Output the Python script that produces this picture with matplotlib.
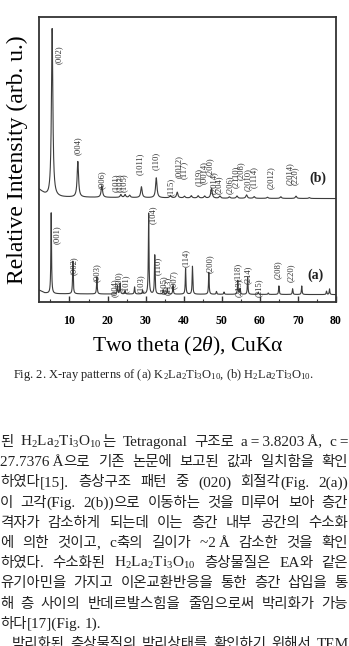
import numpy as np
import matplotlib
matplotlib.use("Agg")
import matplotlib.pyplot as plt

plt.rcParams['font.family'] = ['Liberation Serif', 'Noto Sans CJK KR']
plt.rcParams['mathtext.fontset'] = 'custom'
plt.rcParams['mathtext.rm'] = 'Liberation Serif'
plt.rcParams['mathtext.it'] = 'Liberation Serif:italic'
plt.rcParams['mathtext.bf'] = 'Liberation Serif:bold'

#page size in pixels (dpi 100)
W, H = 349, 646

#--- data ---
tth_min, tth_max = 2, 80

#(a) K2La2Ti3O10 : peak positions (2theta) and heights above the baseline
pos_a = [5.2, 10.9, 17.2, 22.6, 23.3, 24.6, 27.1, 29.2, 30.8, 32.4, 34.6, 35.7, 37.2,
         40.5, 42.3, 46.6, 48.6, 50.6, 54.2, 54.8, 56.8, 59.6, 62.2, 65.0, 68.6, 71.0, 77.5, 78.3]
hgt_a = [28.4, 11.5, 6.0, 3.0, 3.8, 1.2, 2.5, 1.2, 28.4, 13.7, 1.5, 2.0, 3.0,
         9.0, 9.8, 7.7, 1.0, 0.8, 4.9, 2.0, 6.0, 0.8, 0.5, 3.0, 2.0, 3.0, 1.2, 2.0]
base_a_x = [2, 3.5, 5, 20, 50, 80]
base_a_y = [4.2, 3.2, 2.9, 2.8, 2.7, 2.6]

#(b) H2La2Ti3O10
pos_b = [5.45, 12.2, 18.5, 23.5, 24.6, 25.8, 28.9, 32.8, 36.5, 38.3, 40.2, 42.0, 43.8, 45.5, 47.3,
         49.5, 52.0, 54.0, 56.5, 58.5, 62.0, 65.5, 69.5, 73.0]
hgt_b = [59.0, 12.5, 4.1, 1.0, 1.0, 0.8, 3.8, 7.0, 0.8, 2.0, 0.6, 0.8, 0.8, 0.7, 3.5,
         0.8, 0.5, 0.8, 1.2, 0.6, 0.4, 0.6, 0.8, 0.3]
base_b_x = [2, 3.5, 4.5, 8, 30, 50, 80]
base_b_y = [39.5, 37.8, 37.0, 36.8, 36.6, 36.4, 36.3]

#peak indices
labels_a = ['(001)', '(002)', '(003)', '(004)', '(100)', '(101)', '(103)', '(104)', '(110)',
            '(105)', '(113)', '(007)', '(114)', '(200)', '(118)', '(213)', '(214)', '(215)',
            '(208)', '(220)']
label_a_tth = [6.6, 11.05, 17.2, 21.8, 22.9, 24.8, 28.8, 31.8, 33.1, 34.7, 35.7, 37.3, 40.5,
               46.9, 54.1, 54.6, 56.8, 59.8, 64.7, 68.2]
labels_b = ['(002)', '(004)', '(006)', '(101)', '(103)', '(105)', '(1011)', '(110)', '(115)',
            '(0012)', '(117)', '(119)', '(0014)', '(200)', '(2014)', '(204)', '(206)', '(2110)',
            '(208)', '(2010)', '(1114)', '(2012)', '(2014)', '(220)']
label_b_tth = [7.2, 12.2, 18.5, 22.1, 23.2, 24.2, 28.6, 32.6, 36.6, 38.8, 40.1, 44.0, 45.3,
               46.9, 48.0, 49.3, 52.1, 53.7, 55.0, 56.8, 58.4, 62.9, 68.0, 69.3]

caption = ('Fig. 2. X-ray patterns of (a) K$_2$La$_2$Ti$_3$O$_{10}$, '
           '(b) H$_2$La$_2$Ti$_3$O$_{10}$.')

paragraph = [
    "된 H$_2$La$_2$Ti$_3$O$_{10}$는 Tetragonal 구조로 a\u2009=\u20093.8203\u2009Å, c\u2009=",
    "27.7376\u2009Å으로 기존 논문에 보고된 값과 일치함을 확인",
    "하였다[15]. 층상구조 패턴 중 (020) 회절각(Fig. 2(a))",
    "이 고각(Fig. 2(b))으로 이동하는 것을 미루어 보아 층간",
    "격자가 감소하게 되는데 이는 층간 내부 공간의 수소화",
    "에 의한 것이고, c축의 길이가 ~2\u2009Å 감소한 것을 확인",
    "하였다. 수소화된 H$_2$La$_2$Ti$_3$O$_{10}$ 층상물질은 EA와 같은",
    "유기아민을 가지고 이온교환반응을 통한 층간 삽입을 통",
    "해 층 사이의 반데르발스힘을 줄임으로써 박리화가 가능",
    "하다[17](Fig. 1).",
    "박리화된 층상물질의 박리상태를 확인하기 위해서 TEM",
]

#--- figure ---
fig = plt.figure(figsize=(W / 100, H / 100), dpi=100)
ax = fig.add_axes([39 / W, 1 - 302 / H, (336 - 39) / W, (302 - 17) / H])

def profile(x, pos, hgt, gam):
    y = np.zeros_like(x)
    for p, h in zip(pos, hgt):
        y += h / (1 + ((x - p) / gam) ** 2)
    return y

x = np.arange(tth_min, tth_max + 0.005, 0.01)
ya = np.interp(x, base_a_x, base_a_y) + profile(x, pos_a, hgt_a, 0.10)
yb = np.interp(x, base_b_x, base_b_y) + profile(x, pos_b, hgt_b, 0.22)
ax.plot(x, ya, color='#3c3c3c', lw=0.8)
ax.plot(x, yb, color='#3c3c3c', lw=0.8)

ax.set_xlim(tth_min, tth_max)
ax.set_ylim(0, 100)
ax.set_yticks([])
ax.set_xticks(range(10, 81, 10))
ax.set_xticks(range(5, 81, 5), minor=True)
ax.tick_params(axis='x', which='both', direction='in', top=False, color='#333')
ax.tick_params(axis='x', which='major', length=4, width=1, pad=9)
ax.tick_params(axis='x', which='minor', length=2, width=0.8)
for lab in ax.get_xticklabels():
    lab.set_fontweight('bold')
    lab.set_fontsize(8.5)
for sp in ax.spines.values():
    sp.set_linewidth(1.3)
    sp.set_color('#333')

ax.set_xlabel('Two theta (2$\\theta$), CuKα', fontsize=15.5, labelpad=6)
ax.set_ylabel('Relative Intensity (arb. u.)', fontsize=17, labelpad=8)

#peak index labels (vertical placement is layout)
lab_a_y = [23.5, 12.6, 10.3, 5.0, 7.4, 6.4, 6.4, 30.5, 12.5, 6.2, 5.6, 7.8, 15.6, 13.3,
           10.5, 5.0, 9.6, 5.1, 11.4, 10.2]
lab_b_y = [86.7, 54.7, 43.0, 41.8, 41.8, 41.8, 48.6, 49.5, 40.3, 47.4, 46.3, 43.9, 45.3,
           47.4, 42.0, 41.0, 41.0, 44.0, 46.0, 43.0, 43.8, 43.8, 45.0, 44.2]
for t, xx, yy in zip(labels_a, label_a_tth, lab_a_y):
    ax.text(xx, yy, t, rotation=90, ha='center', va='center', fontsize=6.2, color='#333')
for t, xx, yy in zip(labels_b, label_b_tth, lab_b_y):
    ax.text(xx, yy, t, rotation=90, ha='center', va='center', fontsize=6.2, color='#333')
ax.text(74.7, 9.5, '(a)', fontsize=10, fontweight='bold', ha='center', va='center', color='#222')
ax.text(75.2, 43.5, '(b)', fontsize=10, fontweight='bold', ha='center', va='center', color='#222')

fig.text(13 / W, 1 - 375 / H, caption, fontsize=9, ha='left', va='center', color='#222')

#--- body text, justified word by word ---
renderer = fig.canvas.get_renderer()

def is_hangul(c):
    return '\uac00' <= c <= '\ud7a3'

def runs(word):
    #split a word into hangul / latin runs
    out = []
    for c in word:
        k = is_hangul(c)
        if out and out[-1][0] == k:
            out[-1][1] += c
        else:
            out.append([k, c])
    return out

def make_word(word, x, y):
    items = []
    for k, s in runs(word):
        if k:
            t = fig.text(x, y, s, fontsize=10.4, family='Noto Sans CJK KR', color='#222',
                         ha='left', va='baseline', transform=None)
        else:
            t = fig.text(x, y, s, fontsize=11, family='Liberation Serif', color='#222',
                         ha='left', va='baseline', transform=None)
        items.append(t)
        x += t.get_window_extent(renderer).width
    return items, x

def place_line(line, y, x0, x1, justify=True):
    words = line.split(' ')
    placed = []
    widths = []
    for w in words:
        items, xe = make_word(w, 0, y)
        placed.append(items)
        widths.append(xe)
    gap = (x1 - x0 - sum(widths)) / max(len(words) - 1, 1) if justify else 4.0
    xc = x0
    for items, wd in zip(placed, widths):
        xs = xc
        for t in items:
            t.set_x(xs)
            xs += t.get_window_extent(renderer).width
        xc += wd + gap

base0 = 446
step = 20.2
for i, line in enumerate(paragraph):
    ypix = H - (base0 + step * i)
    if i == 9:
        place_line(line, ypix, 0, W, justify=False)
    elif i == 10:
        place_line(line, ypix, 12, 349)
    else:
        place_line(line, ypix, 0, 348)

fig.savefig('out.png', dpi=100)
